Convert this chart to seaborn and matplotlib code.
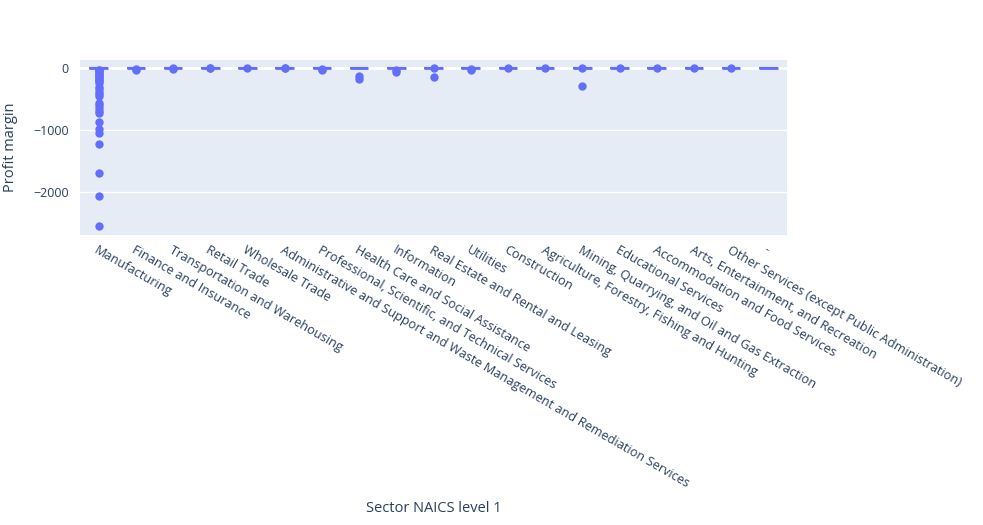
import pandas as pd
import matplotlib
matplotlib.use("Agg")
import matplotlib.pyplot as plt
import seaborn as sns

# Sector order as shown on the x axis
sectors = [
    "Manufacturing",
    "Finance and Insurance",
    "Transportation and Warehousing",
    "Retail Trade",
    "Wholesale Trade",
    "Administrative and Support and Waste Management and Remediation Services",
    "Professional, Scientific, and Technical Services",
    "Health Care and Social Assistance",
    "Information",
    "Real Estate and Rental and Leasing",
    "Utilities",
    "Construction",
    "Agriculture, Forestry, Fishing and Hunting",
    "Mining, Quarrying, and Oil and Gas Extraction",
    "Educational Services",
    "Accommodation and Food Services",
    "Arts, Entertainment, and Recreation",
    "Other Services (except Public Administration)",
    "-",
]

# Manufacturing: bulk of firms near 0 (value, how many firms)
mfg_core_values = [-6, -4, -2, -1, 0, 1, 2, 3, 5, 8]
mfg_core_counts = [8, 10, 12, 14, 18, 14, 12, 10, 8, 6]
# Manufacturing outliers
mfg_outliers = [-27, -40, -55, -70, -90, -110, -130, -150, -170, -190, -210,
                -240, -300, -340, -380, -420, -455, -560, -600, -650, -690,
                -720, -872, -989, -1043, -1219, -1690, -2064, -2545]

# Profit margin values for the other sectors (bulk near 0, then outliers)
finance = [-1, -0.5, 0, 0.2, 0.5, 1, 1.5, 2, -8, -18, -30]
transportation = [-0.5, -0.2, 0, 0.2, 0.5, 1, 1.5, -5, -9]
retail = [-0.5, -0.2, 0, 0.2, 0.5, 1, 1.5, -4, -7]
wholesale = [-0.5, -0.2, 0, 0.2, 0.5, 1, 1.5, -4]
administrative = [-0.5, -0.2, 0, 0.2, 0.5, 1, 1.5, -5, -8]
professional = [-1, -0.5, 0, 0.2, 0.5, 1, 2, -6, -20, -40]
health = [-1, -0.5, 0, 0.2, 0.5, 1, 2, -6, -130, -170]
information = [-1, -0.5, 0, 0.2, 0.5, 1, 2, -5, -35, -70]
real_estate = [-1, -0.5, 0, 0.2, 0.5, 1, 2, -5, -144]
utilities = [-1, -0.5, 0, 0.2, 0.5, 1, 2, -5, -15, -28]
construction = [-0.5, -0.2, 0, 0.2, 0.5, 1, 1.5, -4]
agriculture = [-0.5, -0.2, 0, 0.2, 0.5, 1, 1.5, -3]
mining = [-0.5, -0.2, 0, 0.2, 0.5, 1, 1.5, -4, -290]
educational = [-0.5, -0.2, 0, 0.2, 0.5, 1, 1.5, -3]
accommodation = [-0.5, -0.2, 0, 0.2, 0.5, 1, 1.5, -5]
arts = [-0.5, -0.2, 0, 0.2, 0.5, 1, 1.5, -3]
other_services = [-0.5, -0.2, 0, 0.2, 0.5, 1, 1.5, -3]
dash = [-0.5, 0, 0, 0.5]

manufacturing = []
for v, n in zip(mfg_core_values, mfg_core_counts):
    manufacturing += [v] * n
manufacturing += mfg_outliers

values = [manufacturing, finance, transportation, retail, wholesale,
          administrative, professional, health, information, real_estate,
          utilities, construction, agriculture, mining, educational,
          accommodation, arts, other_services, dash]

rows = []
for sector, vals in zip(sectors, values):
    for v in vals:
        rows.append({"Sector NAICS level 1": sector, "Profit margin": v})
df = pd.DataFrame(rows)

blue = "#636efa"
text_color = "#2a3f5f"
plt.rcParams["font.family"] = ["Open Sans", "DejaVu Sans"]

fig = plt.figure(figsize=(9.83, 5.25), dpi=100)
ax = fig.add_axes([0.0814, 0.5524, 0.7192, 0.3333])
ax.set_facecolor("#E5ECF6")

sns.boxplot(
    data=df, x="Sector NAICS level 1", y="Profit margin", order=sectors,
    color=blue, saturation=1, width=0.5, linewidth=1.5, showcaps=False,
    boxprops=dict(facecolor=(0.388, 0.431, 0.98, 0.5), edgecolor=blue),
    whiskerprops=dict(color=blue), medianprops=dict(color=blue, linewidth=2),
    flierprops=dict(marker="o", markerfacecolor=blue, markeredgecolor=blue,
                    markersize=5),
    ax=ax,
)

ax.set_ylim(-2694, 129)
ax.set_yticks([0, -1000, -2000])
ax.set_yticklabels(["0", "\u22121000", "\u22122000"])
ax.grid(axis="y", color="white", linewidth=1)
ax.axhline(0, color="white", linewidth=2, zorder=0.5)
ax.set_axisbelow(True)
for s in ax.spines.values():
    s.set_visible(False)

ax.tick_params(axis="both", length=0, colors=text_color, labelsize=9)
ax.tick_params(axis="x", labelsize=9.2, pad=6)
ax.tick_params(axis="y", pad=8)
plt.setp(ax.get_xticklabels(), rotation=-30, ha="left", rotation_mode="anchor")

ax.set_xlabel("Sector NAICS level 1", color=text_color, fontsize=10.5)
ax.xaxis.set_label_coords(0.5, -1.52)
ax.set_ylabel("Profit margin", color=text_color, fontsize=10.5, labelpad=11)

fig.savefig("out.png", dpi=100)
